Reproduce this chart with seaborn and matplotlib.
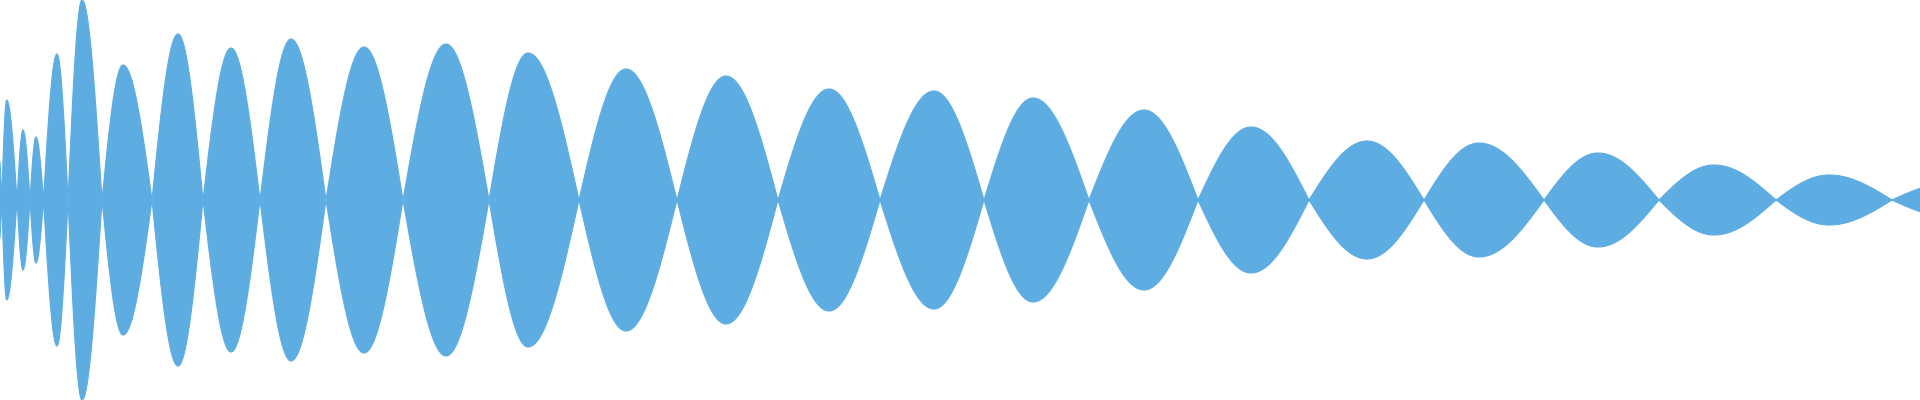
import numpy as np
import pandas as pd
import matplotlib
matplotlib.use("Agg")
import matplotlib.pyplot as plt
import seaborn as sns

# zero crossings of the waveform (x, pixel units)
crossings = [-3, 1.7, 17, 30, 43.5, 68, 102, 152, 203, 260, 326, 403, 489,
             579, 677, 778, 880, 984, 1089, 1198, 1309, 1424, 1544, 1659,
             1776, 1892, 2010]
# x of each lobe's peak
peaks = [-1, 6.7, 23, 36, 57, 82, 123, 178, 231, 291, 364, 446, 528, 626,
         726, 829, 934, 1033, 1144, 1251, 1367, 1479, 1598, 1714, 1829, 1950]
# peak amplitude of each lobe (pixels from the centre line)
amps = [45, 100, 70, 63, 146, 200, 135, 166, 152, 161, 153, 156, 147, 131,
        124, 111, 109, 102, 90, 73, 59, 57, 47, 35, 25, 17]

color = "#5DADE2"

rows = []
for i, (p, a) in enumerate(zip(peaks, amps)):
    left, right = crossings[i], crossings[i + 1]
    xl = np.linspace(left, p, 40)
    xr = np.linspace(p, right, 40)[1:]
    tl = 0.5 * (xl - left) / (p - left)
    tr = 0.5 + 0.5 * (xr - p) / (right - p)
    for x, t in zip(np.r_[xl, xr], np.r_[tl, tr]):
        rows.append((x, a * np.sin(np.pi * t)))
wave = pd.DataFrame(rows, columns=["x", "env"])

sns.set_theme(style="white")
fig = plt.figure(figsize=(19.2, 4), dpi=100)
ax = fig.add_axes([0, 0, 1, 1])
ax.fill_between(wave["x"], -wave["env"], wave["env"], color=color, lw=0)
sns.lineplot(x=wave["x"], y=wave["env"], color=color, lw=0.8, ax=ax,
             sort=False, estimator=None)
sns.lineplot(x=wave["x"], y=-wave["env"], color=color, lw=0.8, ax=ax,
             sort=False, estimator=None)
ax.set_xlim(0, 1920)
ax.set_ylim(-200, 200)
ax.axis("off")
fig.savefig("out.png", dpi=100, facecolor="white")
